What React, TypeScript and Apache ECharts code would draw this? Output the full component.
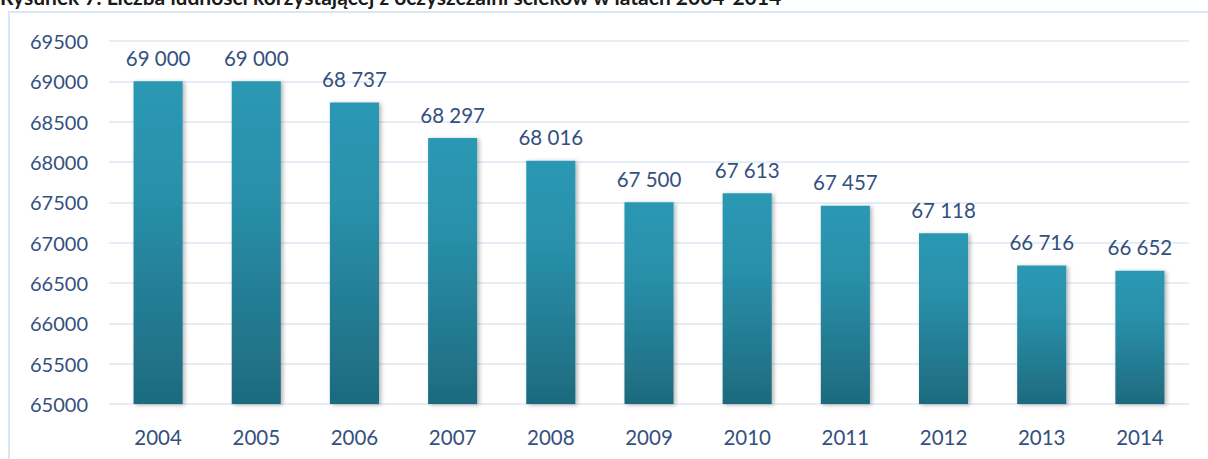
import React, { useEffect, useRef } from "react";
import * as echarts from "echarts";

const years = ["2004", "2005", "2006", "2007", "2008", "2009", "2010", "2011", "2012", "2013", "2014"];
const population = [69000, 69000, 68737, 68297, 68016, 67500, 67613, 67457, 67118, 66716, 66652];
const titleText = "Rysunek 7. Liczba ludności korzystającej z oczyszczalni ścieków w latach 2004-2014";

const fmt = (v: number) => {
  const s = String(Math.round(v));
  return s.replace(/\B(?=(\d{3})+(?!\d))/g, " ");
};

export default function App() {
  const ref = useRef<HTMLDivElement>(null);
  useEffect(() => {
    if (!ref.current) return;
    const chart = echarts.init(ref.current, undefined, { renderer: "svg" });
    const font = "Lato, 'Open Sans', sans-serif";
    const textColor = "#34507f";
    chart.setOption({
      animation: false,
      backgroundColor: "#ffffff",
      graphic: [
        {
          type: "rect",
          shape: { x: 9, y: 12, width: 1260, height: 500 },
          style: { fill: "none", stroke: "#dbe6f3", lineWidth: 2 },
          silent: true,
          z: 0,
        },
        {
          type: "text",
          x: 0,
          y: 7,
          style: {
            text: titleText,
            font: "bold 21px Lato, 'Open Sans', sans-serif",
            fill: "#1a1a1a",
            textVerticalAlign: "bottom",
          },
          z: 10,
        },
      ],
      grid: { left: 109, right: 19, top: 41, bottom: 55, containLabel: false },
      xAxis: {
        type: "category",
        data: years,
        axisLine: { show: false },
        axisTick: { show: false },
        axisLabel: { color: textColor, fontSize: 20.5, fontFamily: font, margin: 22 },
      },
      yAxis: {
        type: "value",
        min: 65000,
        max: 69500,
        interval: 500,
        axisLine: { show: false },
        axisTick: { show: false },
        splitLine: { lineStyle: { color: "#dce7f4", width: 1.5 } },
        axisLabel: {
          color: textColor,
          fontSize: 20,
          fontFamily: font,
          margin: 21,
          formatter: (v: number) => String(v),
        },
      },
      series: [
        {
          type: "bar",
          data: population,
          barWidth: "50%",
          itemStyle: {
            color: new echarts.graphic.LinearGradient(0, 0, 0, 1, [
              { offset: 0, color: "#2b98b4" },
              { offset: 0.35, color: "#2990aa" },
              { offset: 1, color: "#1e6a7e" },
            ]),
            shadowBlur: 4,
            shadowColor: "rgba(0,0,0,0.3)",
            shadowOffsetX: 2,
            shadowOffsetY: 1,
          },
          label: {
            show: true,
            position: "top",
            distance: 13,
            color: textColor,
            fontSize: 20.5,
            fontFamily: font,
            formatter: (p: any) => fmt(p.value),
          },
        },
      ],
    });
    return () => chart.dispose();
  }, []);
  return (
    <div
      ref={ref}
      style={{ position: "absolute", left: 0, top: 0, width: 1208, height: 459 }}
    />
  );
}
